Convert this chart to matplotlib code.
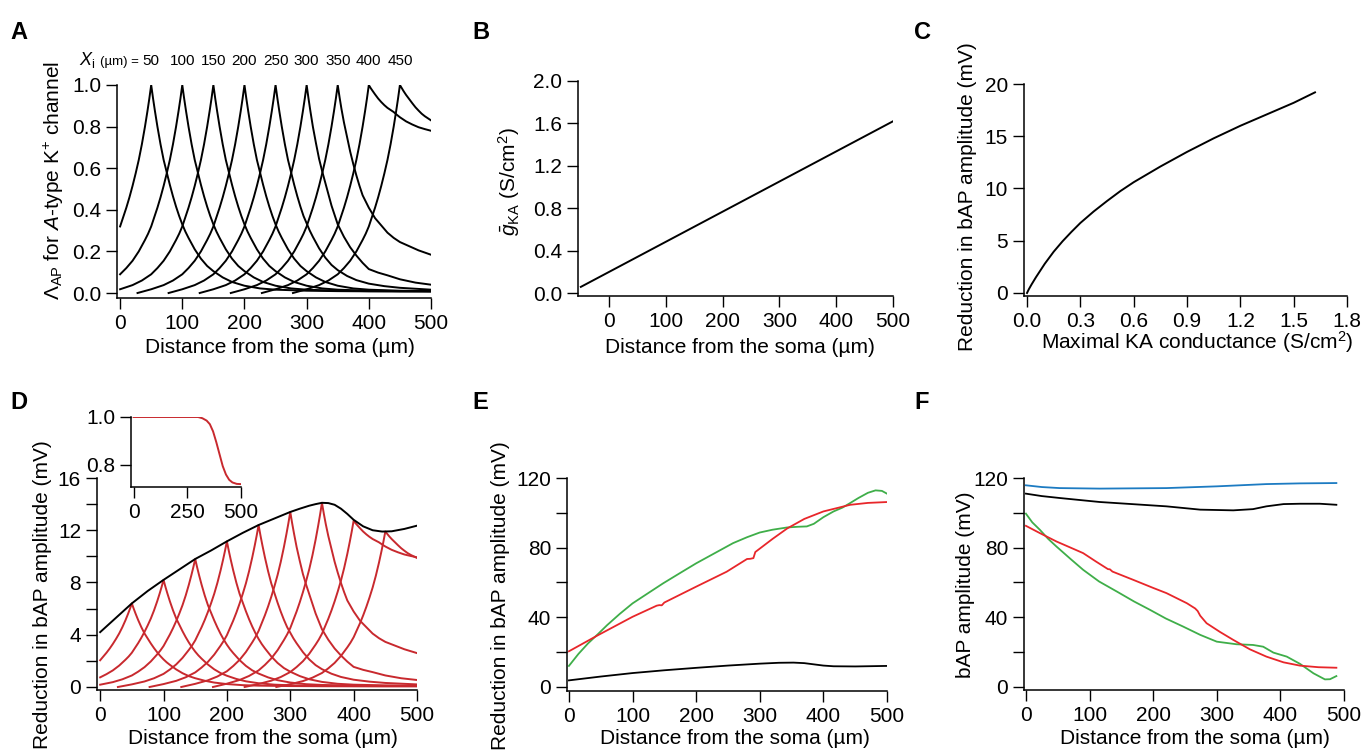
import matplotlib
matplotlib.use("Agg")
import matplotlib.pyplot as plt
import matplotlib.transforms as mtransforms
from matplotlib.ticker import FormatStrFormatter
import numpy as np

plt.rcParams['font.family'] = ['Liberation Sans', 'DejaVu Sans']
plt.rcParams['mathtext.fontset'] = 'custom'
plt.rcParams['mathtext.rm'] = 'Liberation Sans'
plt.rcParams['mathtext.it'] = 'Liberation Sans:italic'
plt.rcParams['mathtext.bf'] = 'Liberation Sans:bold'

# ---- data ----
# A: normalised Lambda_AP profiles around each insertion site
sites = [50, 100, 150, 200, 250, 300, 350, 400, 450]
left_d = [0, 3, 6, 10, 15, 20, 25, 30, 35, 40, 45, 50, 55, 60, 70, 80, 90, 100,
          115, 130, 150, 172]
left_val = [1.0, 0.935, 0.875, 0.80, 0.715, 0.64, 0.575, 0.515, 0.46, 0.41, 0.365,
            0.32, 0.285, 0.255, 0.20, 0.155, 0.12, 0.09, 0.06, 0.038, 0.018, 0.0]
right_d = [0, 3, 6, 10, 15, 20, 25, 30, 35, 40, 45, 50, 55, 60, 70, 80, 90, 100,
           115, 130, 150, 175, 200, 250, 300, 350, 400, 450]
right_generic = [1.0, 0.935, 0.875, 0.80, 0.715, 0.64, 0.58, 0.52, 0.465, 0.415, 0.37,
                 0.33, 0.295, 0.265, 0.21, 0.165, 0.13, 0.105, 0.075, 0.053, 0.035,
                 0.022, 0.016, 0.011, 0.009, 0.008, 0.008, 0.008]
right_250 = [1.0, 0.935, 0.875, 0.80, 0.715, 0.64, 0.58, 0.52, 0.465, 0.415, 0.37,
             0.335, 0.30, 0.27, 0.215, 0.17, 0.135, 0.11, 0.082, 0.062, 0.045, 0.033,
             0.025, 0.016]
right_300 = [1.0, 0.935, 0.875, 0.80, 0.72, 0.645, 0.585, 0.53, 0.475, 0.42, 0.375,
             0.33, 0.30, 0.27, 0.22, 0.18, 0.145, 0.115, 0.098, 0.085, 0.066, 0.05, 0.04]
right_350 = [1.0, 0.94, 0.885, 0.82, 0.75, 0.68, 0.62, 0.565, 0.515, 0.47, 0.44, 0.41,
             0.385, 0.36, 0.325, 0.29, 0.265, 0.245, 0.225, 0.205, 0.184]
right_400 = [1.0, 0.985, 0.972, 0.955, 0.935, 0.918, 0.903, 0.89, 0.88, 0.87, 0.857,
             0.845, 0.835, 0.825, 0.81, 0.797, 0.788, 0.78]
right_450 = [1.0, 0.985, 0.97, 0.952, 0.932, 0.912, 0.893, 0.877, 0.862, 0.85, 0.84, 0.83]
right_vals = [right_generic, right_generic, right_generic, right_generic,
              right_250, right_300, right_350, right_400, right_450]

# B: maximal KA conductance vs distance
b_x = [-50, 500]
b_y = [0.058, 1.62]

# C: reduction in bAP amplitude vs gKA
c_x = [0, 0.01, 0.025, 0.05, 0.075, 0.1, 0.15, 0.2, 0.25, 0.3, 0.375, 0.45, 0.525,
       0.6, 0.75, 0.9, 1.05, 1.2, 1.35, 1.5, 1.62]
c_y = [0, 0.35, 0.8, 1.5, 2.15, 2.8, 3.95, 4.95, 5.85, 6.7, 7.8, 8.8, 9.75, 10.6, 12.1,
       13.5, 14.8, 16.0, 17.1, 18.2, 19.2]

# D: peak reduction at each site, envelope and inset
d_peaks = [6.4, 8.2, 9.8, 11.15, 12.4, 13.4, 14.1, 12.73, 11.9]
env_x = [0, 25, 50, 75, 100, 125, 150, 175, 200, 225, 250, 275, 300, 315, 330, 340,
         350, 360, 370, 380, 390, 400, 415, 430, 445, 460, 480, 500]
env_y = [4.2, 5.3, 6.4, 7.35, 8.2, 9.0, 9.8, 10.45, 11.15, 11.8, 12.4, 12.9, 13.4,
         13.65, 13.88, 14.0, 14.1, 14.08, 13.95, 13.65, 13.25, 12.8, 12.3, 12.0, 11.9,
         11.92, 12.1, 12.35]
inset_x = [0, 300, 320, 340, 355, 370, 385, 400, 415, 430, 445, 460, 480, 500]
inset_y = [1.0, 1.0, 0.995, 0.985, 0.97, 0.94, 0.895, 0.845, 0.795, 0.76, 0.738, 0.727,
           0.721, 0.72]

# E: reduction in bAP amplitude
e_black_x = [0, 50, 100, 150, 200, 250, 300, 330, 353, 370, 385, 400, 416, 450, 500]
e_black_y = [3.8, 6.0, 8.0, 9.6, 11.0, 12.3, 13.4, 13.9, 14.0, 13.7, 13.0, 12.3, 11.9,
             11.8, 12.1]
e_red_x = [0, 46, 100, 138, 142, 146, 150, 200, 248, 280, 285, 290, 293, 320, 343, 370,
           400, 442, 470, 500]
e_red_y = [20.5, 29.8, 40.3, 46.7, 47.0, 46.9, 48.5, 57.6, 66.2, 73.5, 73.6, 74.0, 77.5,
           85.0, 91.0, 96.5, 100.8, 104.6, 105.7, 106.2]
e_green_x = [0, 15, 30, 46, 60, 80, 100, 125, 148, 175, 200, 230, 258, 280, 300, 320,
             343, 360, 374, 385, 400, 416, 430, 442, 455, 470, 482, 492, 500]
e_green_y = [12.1, 19.0, 25.0, 30.5, 35.5, 42.0, 48.0, 54.0, 59.5, 65.5, 71.0, 77.0,
             82.6, 86.0, 88.7, 90.3, 91.6, 92.0, 92.2, 93.7, 97.5, 100.8, 103.0, 105.6,
             108.5, 111.5, 112.9, 112.6, 111.0]

# F: bAP amplitude
f_blue_x = [0, 25, 53, 116, 221, 300, 378, 430, 488]
f_blue_y = [115.8, 114.8, 114.2, 113.9, 114.2, 115.2, 116.5, 116.9, 117.1]
f_black_x = [0, 25, 53, 116, 221, 274, 326, 357, 378, 405, 431, 462, 488]
f_black_y = [111.0, 109.6, 108.5, 106.2, 103.7, 101.8, 101.4, 102.1, 103.7, 105.0,
             105.2, 105.2, 104.6]
f_red_x = [0, 22, 48, 70, 90, 110, 129, 132, 136, 169, 200, 221, 253, 266, 270, 274,
           284, 305, 326, 352, 378, 405, 431, 460, 488]
f_red_y = [92.5, 88.3, 83.5, 80.0, 76.8, 72.0, 67.6, 67.5, 66.2, 61.4, 56.8, 53.8, 48.0,
           45.0, 43.5, 40.8, 36.5, 31.5, 26.9, 21.5, 17.3, 14.0, 12.1, 11.2, 10.9]
f_green_x = [0, 10, 22, 35, 48, 70, 90, 115, 143, 170, 195, 220, 247, 274, 300, 331,
             357, 373, 389, 410, 431, 452, 470, 478, 488]
f_green_y = [99.5, 94.5, 90.2, 85.0, 80.6, 73.5, 67.2, 60.5, 54.7, 49.0, 44.2, 39.2,
             34.6, 29.8, 25.9, 24.4, 24.0, 23.0, 19.6, 17.3, 13.1, 7.7, 4.2, 4.3, 6.1]

RED_D = '#c8292e'
RED = '#e8262a'
GREEN = '#3fae49'
BLUE = '#1c7bc2'
FS = 15

W, H = 1363, 751
fig = plt.figure(figsize=(W / 100, H / 100), dpi=100)


def add_ax(l, t, r, b):
    return fig.add_axes([l / W, 1 - b / H, (r - l) / W, (b - t) / H])


def style(ax):
    for s in ['top', 'right']:
        ax.spines[s].set_visible(False)
    for s in ['left', 'bottom']:
        ax.spines[s].set_linewidth(1.1)
    ax.tick_params(which='both', direction='out', length=8, width=1.0,
                   labelsize=FS, pad=3.5, color='black')


def profile(i):
    xi = sites[i]
    lx = [xi - d for d in left_d if xi - d >= 0][::-1]
    ly = [v for d, v in zip(left_d, left_val) if xi - d >= 0][::-1]
    rx = [xi + d for d in right_d if xi + d <= 500]
    ry = right_vals[i][:len(rx)]
    return np.array(lx + rx[1:]), np.array(ly + ry[1:])


dist_label = 'Distance from the soma (µm)'
red_label = 'Reduction in bAP amplitude (mV)'

# ---- A ----
axA = add_ax(117, 85, 431, 298)
style(axA)
for i in range(len(sites)):
    x, y = profile(i)
    axA.plot(x, y, color='black', lw=1.4)
axA.set_xlim(-5, 500)
axA.set_ylim(-0.024, 1.0)
axA.set_xticks([0, 100, 200, 300, 400, 500])
axA.set_yticks([0, 0.2, 0.4, 0.6, 0.8, 1.0])
axA.yaxis.set_major_formatter(FormatStrFormatter('%.1f'))
axA.set_xlabel(dist_label, fontsize=FS)
axA.set_ylabel(r'$\Lambda_{\rm AP}$ for $\it{A}$-type K$^{+}$ channel', fontsize=FS)
axA.xaxis.set_label_coords(0.52, -0.188)
axA.yaxis.set_label_coords(-0.162, 0.55)
trA = mtransforms.blended_transform_factory(axA.transData, axA.transAxes)
for xi in sites:
    axA.text(xi, 1.094, str(xi), transform=trA, ha='center', va='baseline', fontsize=11)
axA.text(30, 1.094, '(µm) =', transform=trA, ha='right', va='baseline', fontsize=9.5)
axA.text(-40, 1.094, r'$\it{X}_{\rm i}$', transform=trA, ha='right', va='baseline',
         fontsize=13)

# ---- B ----
axB = add_ax(578, 81, 893, 296)
style(axB)
axB.plot(b_x, b_y, color='black', lw=1.4)
axB.set_xlim(-55, 500)
axB.set_ylim(-0.028, 2.0)
axB.set_xticks([0, 100, 200, 300, 400, 500])
axB.set_yticks([0, 0.4, 0.8, 1.2, 1.6, 2.0])
axB.yaxis.set_major_formatter(FormatStrFormatter('%.1f'))
axB.set_xlabel(dist_label, fontsize=FS)
axB.set_ylabel(r'$\bar{g}_{\rm KA}$ (S/cm$^{2}$)', fontsize=FS)
axB.xaxis.set_label_coords(0.514, -0.195)
axB.yaxis.set_label_coords(-0.178, 0.53)

# ---- C ----
axC = add_ax(1024, 84, 1347, 296)
style(axC)
axC.plot(c_x, c_y, color='black', lw=1.4)
axC.set_xlim(-0.017, 1.8)
axC.set_ylim(-0.29, 20)
axC.set_xticks([0, 0.3, 0.6, 0.9, 1.2, 1.5, 1.8])
axC.set_yticks([0, 5, 10, 15, 20])
axC.xaxis.set_major_formatter(FormatStrFormatter('%.1f'))
axC.set_xlabel('Maximal KA conductance (S/cm$^{2}$)', fontsize=FS)
axC.set_ylabel(red_label, fontsize=FS)
axC.xaxis.set_label_coords(0.535, -0.156)
axC.yaxis.set_label_coords(-0.146, 0.467)

# ---- D ----
axD = add_ax(97, 478, 417, 690)
style(axD)
for i in range(len(sites)):
    x, y = profile(i)
    axD.plot(x, y * d_peaks[i], color=RED_D, lw=1.4)
axD.plot(env_x, env_y, color='black', lw=1.4)
axD.set_xlim(-5, 500)
axD.set_ylim(-0.23, 16)
axD.set_xticks([0, 100, 200, 300, 400, 500])
axD.set_yticks([0, 4, 8, 12, 16])
axD.set_yticks([2, 6, 10, 14], minor=True)
axD.set_xlabel(dist_label, fontsize=FS)
axD.set_ylabel(red_label, fontsize=FS)
axD.xaxis.set_label_coords(0.52, -0.184)
axD.yaxis.set_label_coords(-0.14, 0.45)

axI = add_ax(131, 417, 241, 487)
style(axI)
axI.patch.set_alpha(0)
axI.plot(inset_x, inset_y, color=RED_D, lw=1.4)
axI.set_xlim(-12, 500)
axI.set_ylim(0.708, 1.0)
axI.set_xticks([0, 250, 500])
axI.set_yticks([0.8, 1.0])
axI.yaxis.set_major_formatter(FormatStrFormatter('%.1f'))

# ---- E ----
axE = add_ax(567, 478, 887, 691)
style(axE)
axE.plot(e_black_x, e_black_y, color='black', lw=1.3)
axE.plot(e_green_x, e_green_y, color=GREEN, lw=1.3)
axE.plot(e_red_x, e_red_y, color=RED, lw=1.3)
axE.set_xlim(-3, 500)
axE.set_ylim(-2.3, 120)
axE.set_xticks([0, 100, 200, 300, 400, 500])
axE.set_yticks([0, 40, 80, 120])
axE.set_yticks([20, 60, 100], minor=True)
axE.set_xlabel(dist_label, fontsize=FS)
axE.set_ylabel(red_label, fontsize=FS)
axE.xaxis.set_label_coords(0.525, -0.178)
axE.yaxis.set_label_coords(-0.178, 0.45)

# ---- F ----
axF = add_ax(1024, 478, 1344, 690)
style(axF)
axF.plot(f_blue_x, f_blue_y, color=BLUE, lw=1.3)
axF.plot(f_black_x, f_black_y, color='black', lw=1.3)
axF.plot(f_green_x, f_green_y, color=GREEN, lw=1.3)
axF.plot(f_red_x, f_red_y, color=RED, lw=1.3)
axF.set_xlim(-3, 500)
axF.set_ylim(-1.9, 120)
axF.set_xticks([0, 100, 200, 300, 400, 500])
axF.set_yticks([0, 40, 80, 120])
axF.set_yticks([20, 60, 100], minor=True)
axF.set_xlabel(dist_label, fontsize=FS)
axF.set_ylabel('bAP amplitude (mV)', fontsize=FS)
axF.xaxis.set_label_coords(0.534, -0.184)
axF.yaxis.set_label_coords(-0.153, 0.495)

# panel letters
for letter, px, py in [('A', 10, 39), ('B', 472, 39), ('C', 914, 39),
                       ('D', 10, 409), ('E', 472, 409), ('F', 914, 409)]:
    fig.text(px / W, 1 - py / H, letter, fontsize=17, fontweight='bold', ha='left',
             va='baseline')

fig.savefig('out.png', dpi=100)
